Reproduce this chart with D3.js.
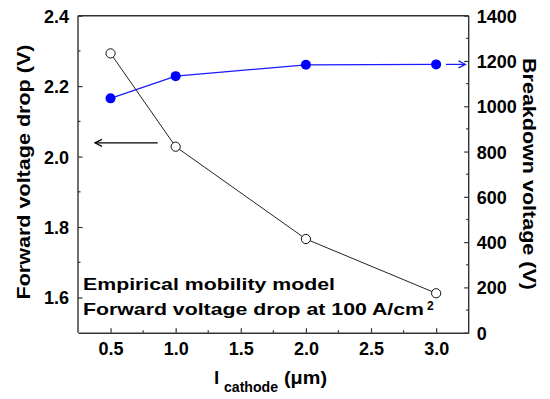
<!DOCTYPE html>
<html><head><meta charset="utf-8">
<script src="https://cdn.jsdelivr.net/npm/d3@7"></script>
<style>body{margin:0;background:#fff}text{font-family:"Liberation Sans",Arial,sans-serif;font-weight:bold;fill:#000}</style>
</head><body>
<svg id="c" width="550" height="399"></svg>
<script>
const cathode = [0.5, 1.0, 2.0, 3.0];
const forwardDrop = [2.293, 2.028, 1.766, 1.612];
const breakdown = [1035, 1133, 1183, 1185];
const xTicks = [0.5, 1.0, 1.5, 2.0, 2.5, 3.0];
const yLeftTicks = [1.6, 1.8, 2.0, 2.2, 2.4];
const yRightTicks = [0, 200, 400, 600, 800, 1000, 1200, 1400];

const L = 78, R = 468.7, T = 15.7, B = 332.7;
const svg = d3.select("#c");
const x = d3.scaleLinear().domain([0.25, 3.25]).range([L, R]);
const yL = d3.scaleLinear().domain([1.5, 2.4]).range([B, T]);
const yR = d3.scaleLinear().domain([0, 1400]).range([B, T]);

const axisCol = "#333";
function styleAxis(g){ g.select(".domain").attr("stroke", axisCol).attr("stroke-width", 1.4);
  g.selectAll(".tick line").attr("stroke", axisCol).attr("stroke-width", 1.2);
  g.selectAll(".tick text").style("font-size", "18px").style("font-weight","bold").attr("fill","#000"); }

const xMinor = d3.range(0.75, 3.25, 0.5);
const yLMinor = [1.7, 1.9, 2.1, 2.3];
const yRMinor = d3.range(100, 1400, 200);

const gx = svg.append("g").attr("transform", `translate(0,${B})`)
  .call(d3.axisBottom(x).tickValues(xTicks).tickFormat(d3.format(".1f")).tickSizeInner(-4.5).tickSizeOuter(0).tickPadding(9));
styleAxis(gx);
gx.selectAll(".tick text").attr("dy", 0).attr("y", 22);
gx.selectAll(".minor").data(xMinor).enter().append("line").attr("x1", d=>x(d)).attr("x2", d=>x(d)).attr("y1",0).attr("y2",-2.5).attr("stroke",axisCol).attr("stroke-width",1.2);

const gl = svg.append("g").attr("transform", `translate(${L},0)`)
  .call(d3.axisLeft(yL).tickValues(yLeftTicks).tickFormat(d3.format(".1f")).tickSizeInner(-4.5).tickSizeOuter(0).tickPadding(9));
styleAxis(gl);
gl.select(".domain").attr("d", `M0,${T}V${B}`);
gl.selectAll(".tick text").attr("x", -9).attr("dy", "0.36em");
gl.selectAll(".minor").data(yLMinor).enter().append("line").attr("y1", d=>yL(d)).attr("y2", d=>yL(d)).attr("x1",0).attr("x2",2.5).attr("stroke",axisCol).attr("stroke-width",1.2);

const gr = svg.append("g").attr("transform", `translate(${R},0)`)
  .call(d3.axisRight(yR).tickValues(yRightTicks).tickFormat(d3.format("d")).tickSizeInner(-4.5).tickSizeOuter(0).tickPadding(8));
styleAxis(gr);
gr.select(".domain").attr("d", `M0,${T}V${B}`);
gr.selectAll(".tick text").attr("x", 8).attr("dy", "0.36em");
gr.selectAll(".minor").data(yRMinor).enter().append("line").attr("y1", d=>yR(d)).attr("y2", d=>yR(d)).attr("x1",0).attr("x2",-2.5).attr("stroke",axisCol).attr("stroke-width",1.2);

svg.append("line").attr("x1", L).attr("x2", R).attr("y1", T).attr("y2", T).attr("stroke", axisCol).attr("stroke-width", 1.4);

const fd = cathode.map((c,i)=>[c, forwardDrop[i]]);
const bd = cathode.map((c,i)=>[c, breakdown[i]]);
svg.append("path").datum(bd).attr("fill","none").attr("stroke","#1a1aff").attr("stroke-width",1.3)
  .attr("d", d3.line().x(d=>x(d[0])).y(d=>yR(d[1])));
svg.append("path").datum(fd).attr("fill","none").attr("stroke","#222").attr("stroke-width",1)
  .attr("d", d3.line().x(d=>x(d[0])).y(d=>yL(d[1])));
svg.selectAll(".bd").data(bd).enter().append("circle").attr("cx", d=>x(d[0])).attr("cy", d=>yR(d[1])).attr("r", 5).attr("fill","#0000ff");
svg.selectAll(".fd").data(fd).enter().append("circle").attr("cx", d=>x(d[0])).attr("cy", d=>yL(d[1])).attr("r", 4.6).attr("fill","#fff").attr("stroke","#111").attr("stroke-width",1);

function arrow(x1,y1,x2,y2,col){
  svg.append("line").attr("x1",x1).attr("y1",y1).attr("x2",x2).attr("y2",y2).attr("stroke",col).attr("stroke-width",1.2);
  const dir = Math.sign(x2-x1);
  svg.append("path").attr("d", `M${x2-dir*7},${y2-3.5}L${x2},${y2}L${x2-dir*7},${y2+3.5}`).attr("fill","none").attr("stroke",col).attr("stroke-width",1.2);
}
arrow(x(0.862), yL(2.039), x(0.38), yL(2.039), "#000");
arrow(x(3.075), yR(1185), x(3.225), yR(1185), "#1a1aff");

svg.append("text").attr("x", 83).attr("y", 290).style("font-size","17px").attr("textLength", 252).attr("lengthAdjust","spacingAndGlyphs").text("Empirical mobility model");
const t2 = svg.append("text").attr("x", 83).attr("y", 315).style("font-size","17px");
t2.append("tspan").attr("textLength", 341).attr("lengthAdjust","spacingAndGlyphs").text("Forward voltage drop at 100 A/cm");
t2.append("tspan").attr("x", 427).attr("y", 309.5).style("font-size","12px").text("2");

svg.append("text").attr("transform", "translate(30,172) rotate(-90)").attr("text-anchor","middle").style("font-size","19px")
  .attr("textLength", 255).attr("lengthAdjust","spacingAndGlyphs").text("Forward voltage drop (V)");
svg.append("text").attr("transform", "translate(523,174) rotate(90)").attr("text-anchor","middle").style("font-size","19px")
  .attr("textLength", 232).attr("lengthAdjust","spacingAndGlyphs").text("Breakdown voltage (V)");
const xl = svg.append("text").attr("y", 384).style("font-size","19px");
xl.append("tspan").attr("x", 214).text("l");
xl.append("tspan").attr("x", 224).attr("y", 391.5).style("font-size","14px").attr("textLength", 54).attr("lengthAdjust","spacingAndGlyphs").text("cathode");
xl.append("tspan").attr("x", 284).attr("y", 384).attr("textLength", 43).attr("lengthAdjust","spacingAndGlyphs").text("(μm)");
</script>
</body></html>
